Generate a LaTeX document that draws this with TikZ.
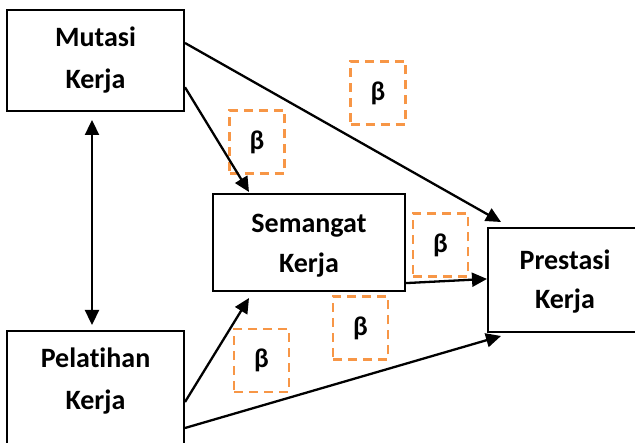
\documentclass[tikz,border=0pt]{standalone}
\usepackage{fontspec}
\setmainfont{Carlito}[Ligatures=NoCommon]
\usetikzlibrary{arrows.meta,calc,positioning}

\definecolor{betaorange}{HTML}{F79646}

\tikzset{
  var/.style={draw, line width=2pt, minimum width=177pt, minimum height=101pt},
  varlabel/.style={align=center, font=\fontsize{28}{42}\selectfont\bfseries},
  coef/.style={draw=betaorange, line width=2.4pt, dash pattern=on 9pt off 6pt,
    minimum width=55pt, minimum height=63pt, inner sep=0pt,
    font=\fontsize{27}{30}\selectfont\bfseries},
  path/.style={line width=2.3pt, -{Triangle[length=15pt,width=14pt]}},
}

\begin{document}
\begin{tikzpicture}[x=1pt,y=-1pt]
  \useasboundingbox (0,0) rectangle (635,443);
  \clip (0,0) rectangle (635,443);
  % variables
  \node[var, varlabel] (mut) at (95.5,60.5) {Mutasi\\Kerja};
  \node[var, minimum width=192pt, minimum height=97pt] (sem) at (309,242.5) {};
  \node[varlabel, font=\fontsize{28}{40}\selectfont\bfseries] (semT) at (309,246) {Semangat\\Kerja};
  \node[var, minimum width=154pt, minimum height=104pt] (pre) at (565,280) {};
  \node[varlabel, font=\fontsize{28}{39}\selectfont\bfseries] (preT) at (565,282) {Prestasi\\Kerja};
  \node[var, minimum height=140pt, anchor=north] (pel) at (95.5,330) {};
  \node[varlabel] (pelT) at (95.5,381) {Pelatihan\\Kerja};
  %
  \node[coef] (b1) at (257,142) {β};
  \node[coef] (b2) at (378,93) {β};
  \node[coef] (b3) at (440.5,245) {β};
  \node[coef] (b4) at (360.5,328) {β};
  \node[coef] (b5) at (261.5,360.5) {β};
  %
  \draw[line width=2.3pt, {Triangle[length=15pt,width=14pt]}-{Triangle[length=15pt,width=14pt]}]
    ($(mut.south)+(-3.5,8)$) -- ($(pel.north)+(-3.5,-5)$);
  \draw[path] ($(mut.north east)!0.33!(mut.south east)$) -- ($(pre.north west)+(14,-5)$);
  \draw[path] ($(mut.north east)!0.76!(mut.south east)$) -- ($(sem.north west)+(37,-1)$);
  \draw[path] ($(sem.north east)!0.91!(sem.south east)$) -- ($(pre.north west)!0.49!(pre.south west)$);
  \draw[path] ($(pel.north east)+(0,72)$) -- ($(sem.south west)+(37,6)$);
  \draw[path] ($(pel.north east)+(0,98)$) -- ($(pre.south west)+(14,3)$);
\end{tikzpicture}
\end{document}
